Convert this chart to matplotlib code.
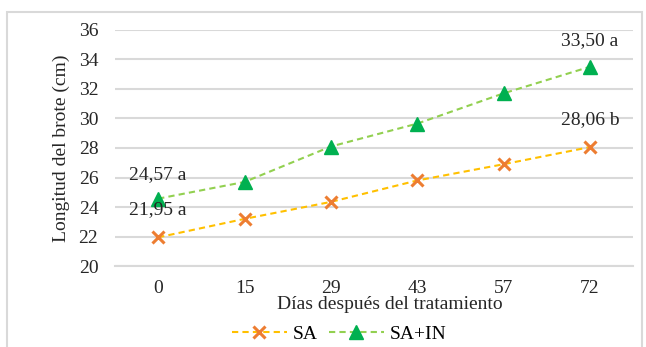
import matplotlib
matplotlib.use("Agg")

import matplotlib.pyplot as plt
from matplotlib.patches import Rectangle

days = ["0", "15", "29", "43", "57", "72"]
sa = [21.95, 23.2, 24.35, 25.8, 26.9, 28.06]
sa_in = [24.57, 25.7, 28.1, 29.65, 31.7, 33.50]
sa_labels = {0: "21,95 a", 5: "28,06 b"}
sa_in_labels = {0: "24,57 a", 5: "33,50 a"}

FS = 14
TXT = "#262626"

plt.rcParams["font.family"] = ["Liberation Serif", "DejaVu Serif"]

fig = plt.figure(figsize=(6.46, 3.47), dpi=100, facecolor="white")
ax = fig.add_axes([0.178, 0.233, 0.802, 0.681])

x = list(range(len(days)))
ax.plot(x, sa, color="#FFC000", lw=1.5, ls=(0, (3, 2)), marker="x",
        markersize=9, mew=2.2, mec="#ED7D31", label="SA", zorder=3)
ax.plot(x, sa_in, color="#92D050", lw=1.5, ls=(0, (3, 2)), marker="^",
        markersize=10, mfc="#00B050", mec="#00B050", label="SA+IN", zorder=3)

for i, txt in sa_labels.items():
    ax.annotate(txt, (x[i], sa[i]), xytext=(0, 14),
                textcoords="offset points", ha="center", va="bottom",
                fontsize=FS, color=TXT)
for i, txt in sa_in_labels.items():
    ax.annotate(txt, (x[i], sa_in[i]), xytext=(0, 11 if i == 0 else 13),
                textcoords="offset points", ha="center", va="bottom",
                fontsize=FS, color=TXT)

ax.set_xlim(-0.5, len(days) - 0.5)
ax.set_ylim(20, 36)
ax.set_yticks(range(20, 37, 2))
ax.set_xticks(x)
ax.set_xticklabels(days)
ax.yaxis.grid(True, color="#D9D9D9", lw=1.5)
ax.set_axisbelow(True)
for s in ["top", "right", "left"]:
    ax.spines[s].set_visible(False)
ax.spines["bottom"].set_color("#D9D9D9")
ax.spines["bottom"].set_linewidth(1.5)
ax.tick_params(length=0, labelsize=FS, colors=TXT)
ax.tick_params(axis="x", pad=10)
ax.tick_params(axis="y", pad=12)

ax.set_ylabel("Longitud del brote (cm)", fontsize=FS, color=TXT, labelpad=6)
ax.set_xlabel("Días después del tratamiento", fontsize=FS, color=TXT)
ax.xaxis.set_label_coords(0.53, -0.128)

fig.legend(loc="center", bbox_to_anchor=(0.525, 0.038), ncol=2, frameon=False,
           fontsize=FS, handlelength=2.8, columnspacing=0.6, handletextpad=0.3,
           borderaxespad=0)

fig.patches.append(Rectangle((7 / 646, -0.05), 635 / 646, 1.05 - 12 / 347,
                             transform=fig.transFigure, fill=False,
                             edgecolor="#D9D9D9", lw=1.5))

fig.savefig("out.png", dpi=100, facecolor="white")
